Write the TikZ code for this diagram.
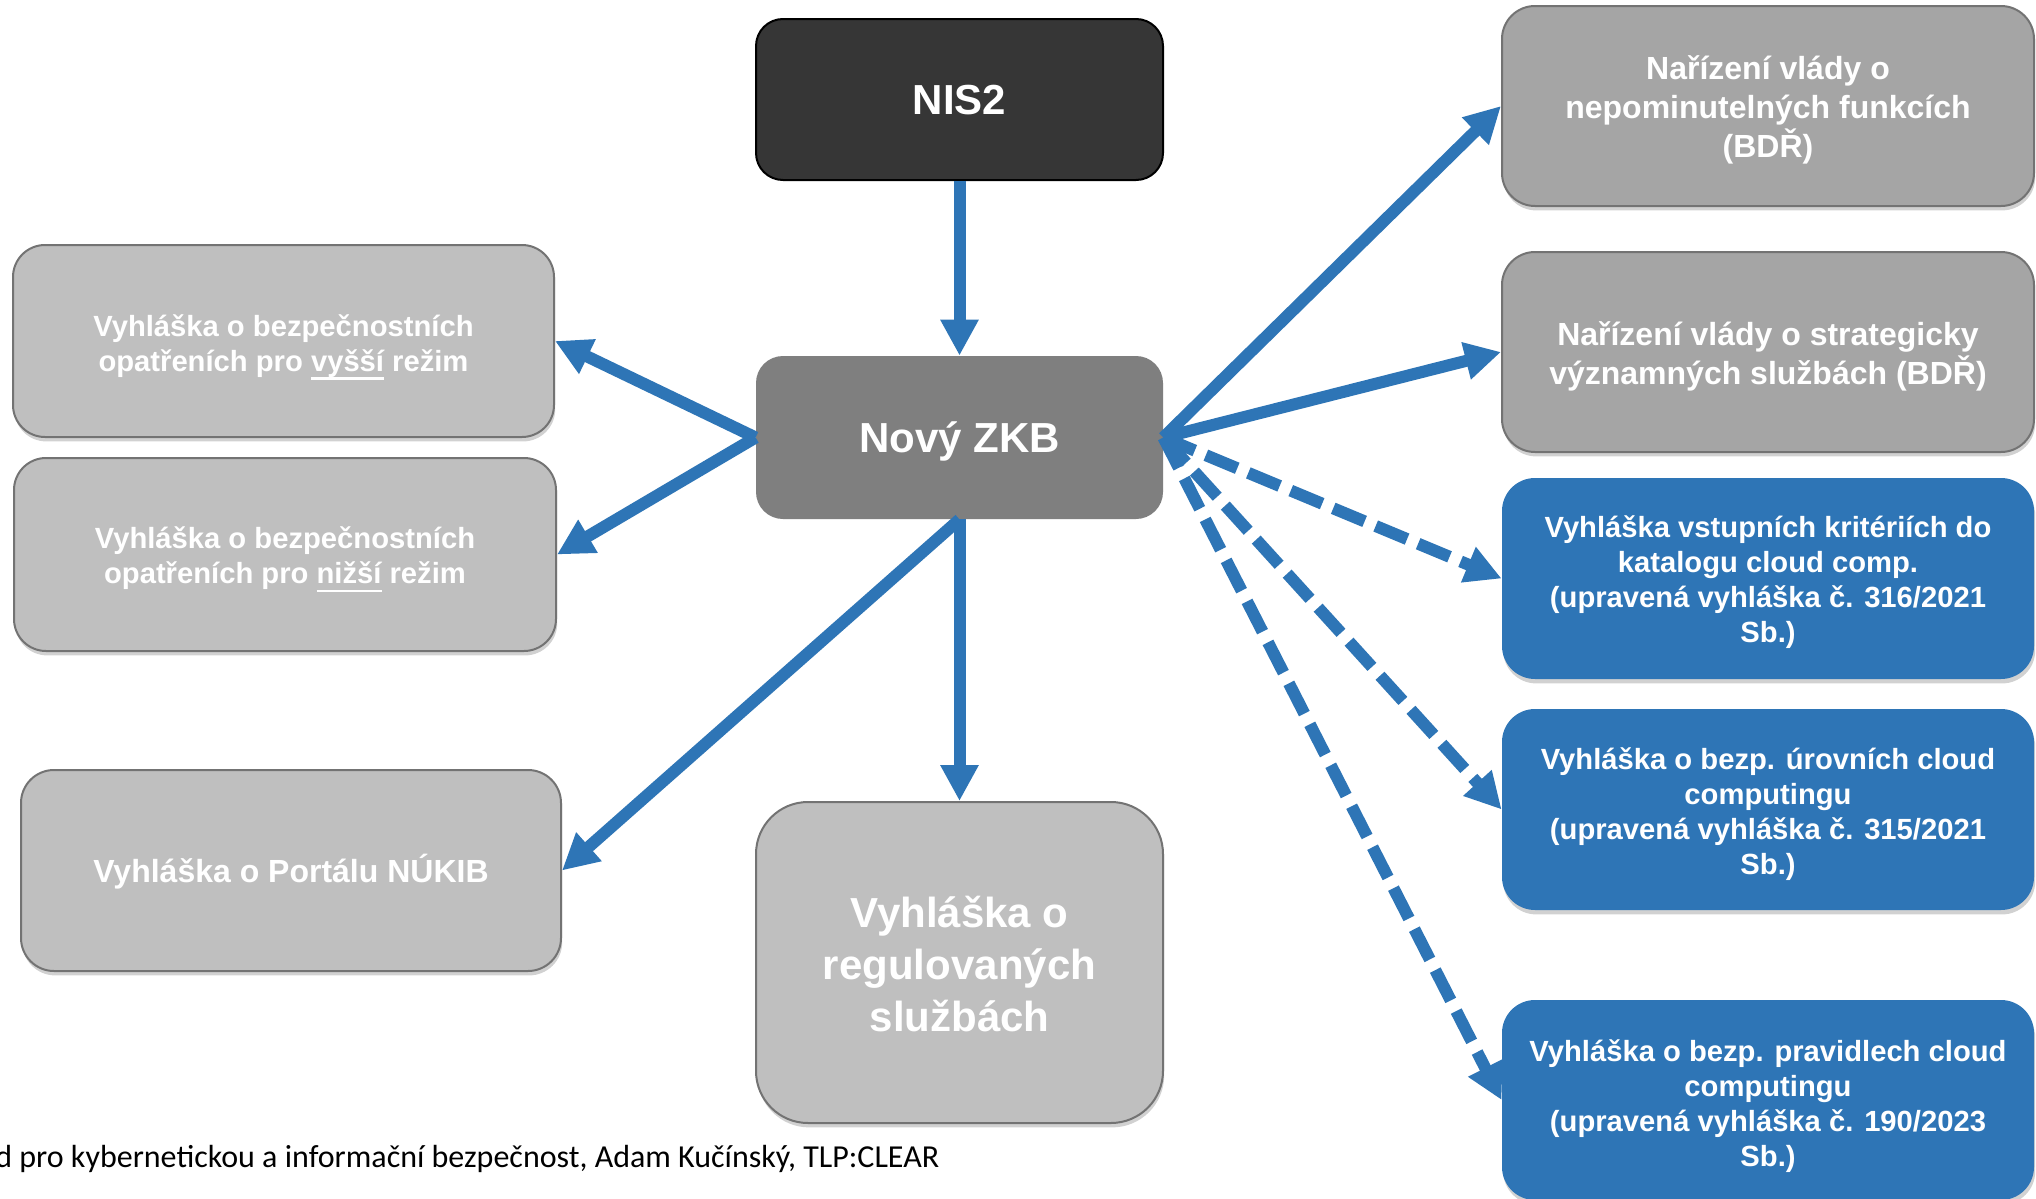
\documentclass[tikz,border=0pt]{standalone}
\usepackage{fontspec}
\setmainfont{Liberation Sans}
\newfontfamily\footfont{Carlito}
\usetikzlibrary{arrows.meta,shadows}
\definecolor{nisdark}{HTML}{363636}
\definecolor{zkbgray}{HTML}{7F7F7F}
\definecolor{lightbox}{HTML}{BFBFBF}
\definecolor{midbox}{HTML}{A5A5A5}
\definecolor{bluebox}{HTML}{2E75B6}
\definecolor{edgegray}{HTML}{737373}
\definecolor{arrowblue}{HTML}{2E75B6}
\newcommand\myul[1]{\setbox0\hbox{#1}\rlap{\rule[-4.2pt]{\wd0}{1.3pt}}\box0\relax}
\tikzset{
  box/.style={inner sep=0pt},
  shad/.style={drop shadow={shadow xshift=0.6pt, shadow yshift=-2.2pt, opacity=0.18, fill=black}},
  graybox/.style={box, shad, fill=lightbox, draw=edgegray, line width=1pt},
  midgray/.style={box, shad, fill=midbox, draw=edgegray, line width=1pt},
  bluenode/.style={box, shad, fill=bluebox},
  lbl/.style={align=center, text=white, inner sep=0pt},
  fsmall/.style={lbl, font=\bfseries\fontsize{14.6}{17.5}\selectfont},
  fmid/.style={lbl, font=\bfseries\fontsize{16}{19.4}\selectfont},
  fbig/.style={lbl, font=\bfseries\fontsize{21}{26}\selectfont},
  conn/.style={draw=arrowblue, line width=6pt, -{Triangle[length=18pt,width=18pt]}},
  dconn/.style={conn, dash pattern=on 17pt off 6pt},
}
\begin{document}
\begin{tikzpicture}[x=0.5pt,y=-0.5pt]
\clip (0,0) rectangle (2036,1199);
\fill[white] (0,0) rectangle (2036,1199);

% central column
\node[box, fill=nisdark, draw=black, line width=1pt, rounded corners=13.5pt,
  minimum width=203.5pt, minimum height=80.5pt] (nis) at (959.5,99.5) {};
\node[fbig] (nist) at ([yshift=-0.5pt]nis.center) {NIS2};
\node[box, fill=zkbgray, rounded corners=13.5pt,
  minimum width=203.5pt, minimum height=81.5pt] (zkb) at (959.5,437.5) {};
\node[fbig] (zkbt) at ([yshift=-2pt]zkb.center) {Nový ZKB};
\node[graybox, rounded corners=26pt,
  minimum width=203.5pt, minimum height=160.5pt] (reg) at (959.5,962.5) {};
\node[fbig] (regt) at ([yshift=-1pt]reg.center) {Vyhláška o\\regulovaných\\službách};

% left column
\node[graybox, rounded corners=16pt,
  minimum width=270.5pt, minimum height=96pt] (l1) at (283.5,341) {};
\node[fsmall] (l1t) at ([yshift=-3pt]l1.center)
  {Vyhláška o bezpečnostních\\opatřeních pro \myul{vyšší} režim};
\node[graybox, rounded corners=16pt,
  minimum width=271pt, minimum height=96.5pt] (l2) at (285,554.5) {};
\node[fsmall] (l2t) at ([yshift=-2.5pt]l2.center)
  {Vyhláška o bezpečnostních\\opatřeních pro \myul{nižší} režim};
\node[graybox, rounded corners=16.5pt,
  minimum width=270pt, minimum height=100.5pt] (portal) at (291,870.5) {};
\node[fmid] (portalt) at ([yshift=-0.5pt]portal.center) {Vyhláška o Portálu NÚKIB};

% right column
\node[midgray, rounded corners=16.5pt,
  minimum width=266pt, minimum height=100pt] (r1) at (1768,106) {};
\node[fmid] (r1t) at ([yshift=-2pt]r1.center)
  {Nařízení vlády o\\nepominutelných funkcích\\(BDŘ)};
\node[midgray, rounded corners=16.5pt,
  minimum width=266pt, minimum height=100pt] (r2) at (1768,352) {};
\node[fmid] (r2t) at ([yshift=-2pt]r2.center)
  {Nařízení vlády o strategicky\\významných službách (BDŘ)};
\node[bluenode, rounded corners=16.5pt,
  minimum width=266pt, minimum height=100.5pt] (r3) at (1768,578.5) {};
\node[fsmall] (r3t) at ([yshift=-2pt]r3.center)
  {Vyhláška vstupních kritériích do\\katalogu cloud comp.\\(upravená vyhláška č. 316/2021\\Sb.)};
\node[bluenode, rounded corners=16.5pt,
  minimum width=266pt, minimum height=100.5pt] (r4) at (1768,809.5) {};
\node[fsmall] (r4t) at ([yshift=-2.5pt]r4.center)
  {Vyhláška o bezp. úrovních cloud\\computingu\\(upravená vyhláška č. 315/2021\\Sb.)};
\node[bluenode, rounded corners=16.5pt,
  minimum width=266pt, minimum height=100pt] (r5) at (1768,1100) {};
\node[fsmall] (r5t) at ([yshift=-3pt]r5.center)
  {Vyhláška o bezp. pravidlech cloud\\computingu\\(upravená vyhláška č. 190/2023\\Sb.)};

% footer
\node[anchor=base west, inner sep=0pt, font=\footfont\fontsize{16}{19}\selectfont, text=black]
  (foot) at (-5,1167) {d pro kybernetickou a informační bezpečnost, Adam Kučínský, TLP:CLEAR};

% connectors
\draw[conn] (nis.south) -- (zkb.north);
\draw[conn] (zkb.south) -- (reg.north);
\draw[conn] (zkb.west) -- (l1.east);
\draw[conn] (zkb.west) -- (l2.east);
\draw[conn] (zkb.south) -- (portal.east);
\draw[conn] (zkb.east) -- (r1.west);
\draw[conn] (zkb.east) -- (r2.west);
\draw[dconn] (zkb.east) -- (r3.west);
\draw[dconn] (zkb.east) -- (r4.west);
\draw[dconn] (zkb.east) -- (r5.west);
\end{tikzpicture}
\end{document}
